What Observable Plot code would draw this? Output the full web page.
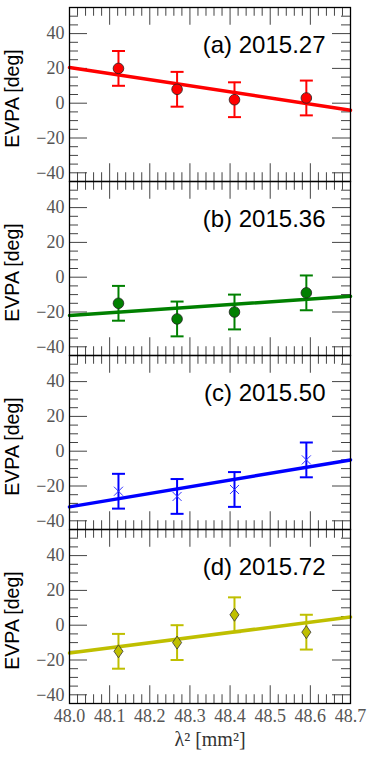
<!DOCTYPE html>
<html><head><meta charset="utf-8">
<script src="https://cdn.jsdelivr.net/npm/d3@7"></script>
<script src="https://cdn.jsdelivr.net/npm/@observablehq/plot@0.6"></script>
<style>body{margin:0;background:#fff}#chart{width:374px;height:758px}</style>
</head><body><div id="chart"></div>
<script>
// ---- data ----
const panelKeys = ["a", "b", "c", "d"];
const epochs = ["2015.27", "2015.36", "2015.50", "2015.72"];
const colors = ["#ff0000", "#008000", "#0000ff", "#bfbf00"];
const markers = ["circle", "circle", "cross", "diamond"];
const lambda2 = [48.122, 48.268, 48.411, 48.590];
const evpaA = [20, 8, 2, 3];
const evpaB = [-15, -24, -20, -9];
const evpaC = [-23, -26, -22, -5];
const evpaD = [-15, -10, 6, -4];
const errA = [10, 10, 10, 10];
const errB = [10, 10, 10, 10];
const errC = [10, 10, 10, 10];
const errD = [10, 10, 10, 10];
const fitX = [48.0, 48.7];
const fitA = [20.5, -4];
const fitB = [-22, -11];
const fitC = [-32, -5];
const fitD = [-16, 4.7];
const xDomain = [48.0, 48.7];
const yDomain = [-45, 55];
const xMajorTicks = [48.0, 48.1, 48.2, 48.3, 48.4, 48.5, 48.6, 48.7];
const xMinorTicks = [48.02, 48.04, 48.06, 48.08, 48.12, 48.14, 48.16, 48.18, 48.22, 48.24, 48.26, 48.28,
  48.32, 48.34, 48.36, 48.38, 48.42, 48.44, 48.46, 48.48, 48.52, 48.54, 48.56, 48.58, 48.62, 48.64, 48.66, 48.68];
const yMajorTicks = [-40, -20, 0, 20, 40];
const yMinorTicks = [-35, -30, -25, -15, -10, -5, 5, 10, 15, 25, 30, 35, 45, 50];
const yLabel = "EVPA [deg]";
const xLabel = "λ² [mm²]";

const evpaAll = [evpaA, evpaB, evpaC, evpaD];
const errAll = [errA, errB, errC, errD];
const fitAll = [fitA, fitB, fitC, fitD];

const rows = [];
panelKeys.forEach((k, i) => lambda2.forEach((x, j) => rows.push({
  panel: k, x, y: evpaAll[i][j], e: errAll[i][j], color: colors[i], marker: markers[i]
})));
const fitRows = panelKeys.flatMap((k, i) => fitX.map((x, j) => ({panel: k, x, y: fitAll[i][j], color: colors[i]})));
const labelRows = panelKeys.map((k, i) => ({panel: k, text: `(${k}) ${epochs[i]}`}));

// ---- custom symbols ----
const capSymbol = {draw(ctx, size) { const r = Math.sqrt(size / Math.PI); ctx.moveTo(-r, 0); ctx.lineTo(r, 0); }};
const crossSymbol = {draw(ctx, size) { const r = Math.sqrt(size / Math.PI);
  ctx.moveTo(-r, -r); ctx.lineTo(r, r); ctx.moveTo(-r, r); ctx.lineTo(r, -r); }};
const thinDiamond = {draw(ctx, size) { const r = Math.sqrt(size / Math.PI); const w = r * 0.7;
  ctx.moveTo(0, -r); ctx.lineTo(w, 0); ctx.lineTo(0, r); ctx.lineTo(-w, 0); ctx.closePath(); }};

const W = 374, H = 758, mL = 69, mR = 24, mT = 6, mB = 55;
const fh = (H - mT - mB) / panelKeys.length;
const fw = W - mL - mR;
const majorLen = 18, minorLen = 9;
const serif = "Liberation Serif";
const sans = "Liberation Sans";

const plot = Plot.plot({
  width: W, height: H,
  marginLeft: mL, marginRight: mR, marginTop: mT, marginBottom: mB,
  x: {domain: xDomain},
  y: {domain: yDomain},
  fy: {domain: panelKeys, axis: null, padding: 0},
  color: {type: "identity"},
  style: {fontFamily: serif, fontSize: "18px", background: "white"},
  marks: [
    // inward ticks
    Plot.tickX(xMajorTicks, {x: d => d, insetBottom: fh - majorLen, stroke: "#444", strokeWidth: 1}),
    Plot.tickX(xMajorTicks, {x: d => d, insetTop: fh - majorLen, stroke: "#444", strokeWidth: 1}),
    Plot.tickX(xMinorTicks, {x: d => d, insetBottom: fh - minorLen, stroke: "#444", strokeWidth: 1}),
    Plot.tickX(xMinorTicks, {x: d => d, insetTop: fh - minorLen, stroke: "#444", strokeWidth: 1}),
    Plot.tickY(yMajorTicks, {y: d => d, insetRight: fw - majorLen, stroke: "#444", strokeWidth: 1}),
    Plot.tickY(yMajorTicks, {y: d => d, insetLeft: fw - majorLen, stroke: "#444", strokeWidth: 1}),
    Plot.tickY(yMinorTicks, {y: d => d, insetRight: fw - minorLen, stroke: "#444", strokeWidth: 1}),
    Plot.tickY(yMinorTicks, {y: d => d, insetLeft: fw - minorLen, stroke: "#444", strokeWidth: 1}),
    // axes labels
    Plot.axisY(yMajorTicks, {tickSize: 0, tickPadding: 5, fill: "#555", fontSize: 18, fontFamily: serif, label: null}),
    Plot.axisX(xMajorTicks, {tickSize: 0, tickPadding: 6, fill: "#555", fontSize: 18, fontFamily: serif,
      tickFormat: d3.format(".1f"), label: null}),
    Plot.text([{panel: "d", text: xLabel}], {fy: "panel", text: "text", frameAnchor: "bottom", dy: 42,
      textAnchor: "middle", lineAnchor: "bottom", fontSize: 20, fill: "#333", fontFamily: serif}),
    Plot.text(labelRows, {fy: "panel", text: () => yLabel,
      x: () => xDomain[0], y: () => (yDomain[0] + yDomain[1]) / 2, rotate: -90,
      dx: -57, dy: 4,
      textAnchor: "middle", lineAnchor: "middle", fontSize: 19.5, fontFamily: sans, fill: "black"}),
    Plot.text(labelRows, {fy: "panel", text: "text", frameAnchor: "top-right", dx: -25, dy: 38,
      textAnchor: "end", lineAnchor: "middle", fontSize: 24, fontFamily: sans, fill: "black"}),
    // fits
    Plot.line(fitRows, {x: "x", y: "y", z: "panel", fy: "panel", stroke: "color", strokeWidth: 3.5}),
    // error bars
    Plot.ruleX(rows, {x: "x", y1: d => d.y - d.e, y2: d => d.y + d.e, fy: "panel", stroke: "color", strokeWidth: 2}),
    Plot.dot(rows, {x: "x", y: d => d.y + d.e, fy: "panel", symbol: capSymbol, r: 6.5, stroke: "color", strokeWidth: 2, fill: "none"}),
    Plot.dot(rows, {x: "x", y: d => d.y - d.e, fy: "panel", symbol: capSymbol, r: 6.5, stroke: "color", strokeWidth: 2, fill: "none"}),
    // markers
    Plot.dot(rows.filter(d => d.marker === "circle"), {x: "x", y: "y", fy: "panel", symbol: "circle", r: 5.3,
      fill: "color", stroke: "#222", strokeWidth: 0.8}),
    Plot.dot(rows.filter(d => d.marker === "cross"), {x: "x", y: "y", fy: "panel", symbol: crossSymbol, r: 4.5,
      fill: "none", stroke: "#3333ff", strokeWidth: 1}),
    Plot.dot(rows.filter(d => d.marker === "diamond"), {x: "x", y: "y", fy: "panel", symbol: thinDiamond, r: 6.5,
      fill: "color", stroke: "#333", strokeWidth: 0.8}),
    Plot.frame({stroke: "black", strokeWidth: 1.3})
  ]
});
document.getElementById("chart").appendChild(plot);
</script>
</body></html>
